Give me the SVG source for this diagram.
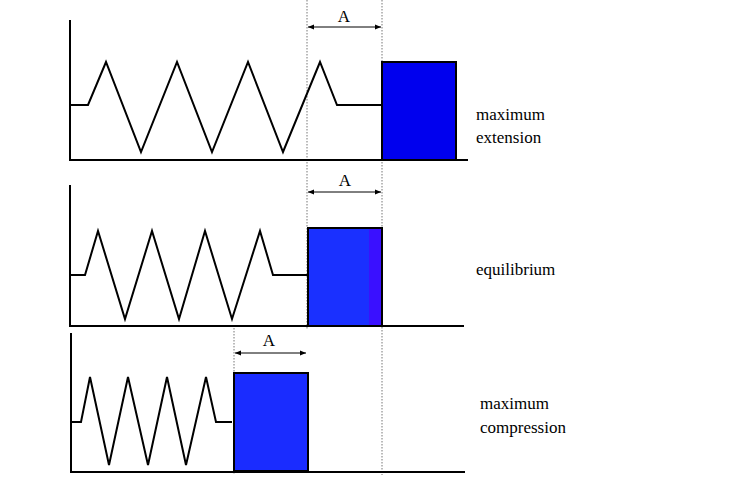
<svg xmlns="http://www.w3.org/2000/svg" width="736" height="501" viewBox="0 0 736 501">
<style>
.ln{stroke:#000;stroke-width:2;fill:none}
.sp{stroke:#000;stroke-width:2;fill:none;stroke-linejoin:miter}
.dt{stroke:#777;stroke-width:1;stroke-dasharray:1.5 1.5;fill:none}
.ar{stroke:#000;stroke-width:1;marker-start:url(#ah);marker-end:url(#ah)}
text{font-family:"Liberation Serif","DejaVu Serif",serif;font-size:17px;fill:#000}
.blk{stroke:#000;stroke-width:2}
</style>
<defs>
<marker id="ah" viewBox="0 0 10 10" refX="10" refY="5" markerWidth="6" markerHeight="6" orient="auto-start-reverse"><path d="M0,1 L10,5 L0,9 Z" fill="#000"/></marker>
</defs>
<g id="connectors">
<line class="dt" x1="307" y1="0" x2="307" y2="330"/>
<line class="dt" x1="382" y1="0" x2="382" y2="475"/>
<line class="dt" x1="234" y1="328" x2="234" y2="475"/>
<line class="ar" x1="308" y1="27" x2="381" y2="27"/>
<line class="ar" x1="308" y1="192" x2="381" y2="192"/>
<line class="ar" x1="235" y1="353" x2="306" y2="353"/>
</g>
<g id="panel1">
<path class="ln" d="M70,20 V160 H468"/>
<path class="sp" d="M70,105 H88 L106,62 L141,152 L177,62 L212,152 L248,62 L283,152 L320,62 L337,105 H382"/>
<rect class="blk" x="382" y="62" width="74" height="98" fill="#0000ee"/>
<text x="344" y="22" text-anchor="middle">A</text>
<text x="476" y="120">maximum</text>
<text x="476" y="143">extension</text>
</g>
<g id="panel2">
<path class="ln" d="M70,185 V326 H464"/>
<path class="sp" d="M71,275 H85 L98,231 L125,319 L152,231 L179,319 L205,231 L232,319 L260,231 L273,275 H307"/>
<rect x="308" y="228" width="74" height="98" fill="#1a30ff"/>
<rect x="369" y="228" width="13" height="98" fill="#3a10ff"/>
<rect x="308" y="228" width="74" height="98" fill="none" class="blk"/>
<text x="345" y="186" text-anchor="middle">A</text>
<text x="476" y="275">equilibrium</text>
</g>
<g id="panel3">
<path class="ln" d="M71,333 V472 H465"/>
<path class="sp" d="M71,422 H81 L90,377 L109,465 L128,377 L148,465 L167,377 L186,465 L206,377 L216,422 H232"/>
<rect class="blk" x="234" y="373" width="74" height="98" fill="#1a2cff"/>
<text x="269" y="346" text-anchor="middle">A</text>
<text x="480" y="409">maximum</text>
<text x="480" y="433">compression</text>
</g>
</svg>
